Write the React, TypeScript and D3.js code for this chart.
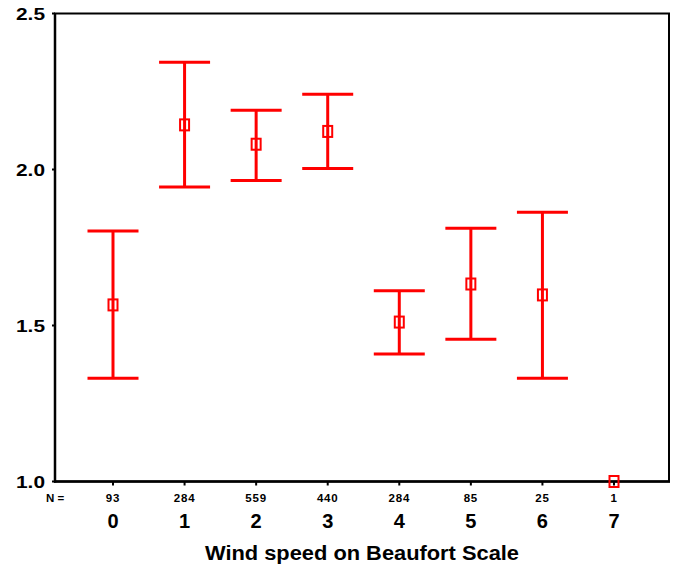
import React from "react"
import * as d3 from "d3"

// Beaufort categories and their counts
const categories = [0, 1, 2, 3, 4, 5, 6, 7]
const counts = [93, 284, 559, 440, 284, 85, 25, 1]
// mean and 95% CI
const means = [1.566, 2.143, 2.081, 2.122, 1.511, 1.633, 1.598, 1.0]
const lower = [1.331, 1.944, 1.965, 2.003, 1.409, 1.456, 1.331, null]
const upper = [1.803, 2.344, 2.190, 2.241, 1.611, 1.812, 1.863, null]
const yTicks = [1.0, 1.5, 2.0, 2.5]

const W = 677
const H = 567
const left = 55
const right = 669
const top = 13.5
const bottom = 481.5

export default function App() {
  const x = d3.scaleLinear().domain([0, 7]).range([113, 614])
  const y = d3.scaleLinear().domain([1, 2.5]).range([bottom, top])
  const red = "#ff0000"
  const capHalf = 25.5
  const font = "'Liberation Sans', Arial, sans-serif"

  return (
    <svg width={W} height={H} style={{ position: "absolute", left: 0, top: 0, background: "#fff" }}
      fontFamily={font}>
      {/* frame */}
      <rect x={left} y={top} width={right - left} height={bottom - top} fill="none" stroke="#000" strokeWidth={2} />
      <line x1={left} x2={left} y1={top} y2={bottom + 1} stroke="#000" strokeWidth={2.5} />
      <line x1={left - 1} x2={right + 1} y1={bottom} y2={bottom} stroke="#000" strokeWidth={2.5} />

      {/* y axis */}
      {yTicks.map(t => (
        <g key={t}>
          <line x1={left - 3} x2={left} y1={y(t)} y2={y(t)} stroke="#000" strokeWidth={2} />
          <text x={45} y={y(t) + 6} textAnchor="end" fontSize={17} fontWeight="bold"
            textLength={29} lengthAdjust="spacingAndGlyphs">{d3.format(".1f")(t)}</text>
        </g>
      ))}

      {/* x axis ticks, N row, category labels */}
      <text x={46} y={502} fontSize={11.5} fontWeight="bold">N =</text>
      {categories.map((c, i) => (
        <g key={c}>
          <line x1={x(c)} x2={x(c)} y1={bottom} y2={bottom + 4} stroke="#000" strokeWidth={2} />
          <text x={x(c)} y={502.3} textAnchor="middle" fontSize={11.5} fontWeight="bold" letterSpacing={0.8}>{counts[i]}</text>
          <text x={x(c)} y={527.7} textAnchor="middle" fontSize={20} fontWeight="bold">{c}</text>
        </g>
      ))}
      <text x={362} y={560.3} textAnchor="middle" fontSize={20} fontWeight="bold"
        textLength={314} lengthAdjust="spacingAndGlyphs">Wind speed on Beaufort Scale</text>

      {/* error bars */}
      {categories.map((c, i) => {
        const cx = x(c)
        const lo = lower[i]
        const hi = upper[i]
        return (
          <g key={c} stroke={red} fill="none">
            {lo != null && hi != null && (
              <g strokeWidth={3}>
                <line x1={cx} x2={cx} y1={y(hi)} y2={y(lo)} />
                <line x1={cx - capHalf} x2={cx + capHalf} y1={y(hi)} y2={y(hi)} />
                <line x1={cx - capHalf} x2={cx + capHalf} y1={y(lo)} y2={y(lo)} />
              </g>
            )}
            <rect x={cx - 4.5} y={y(means[i]) - 5.5} width={9} height={11} strokeWidth={2} />
          </g>
        )
      })}
    </svg>
  )
}
